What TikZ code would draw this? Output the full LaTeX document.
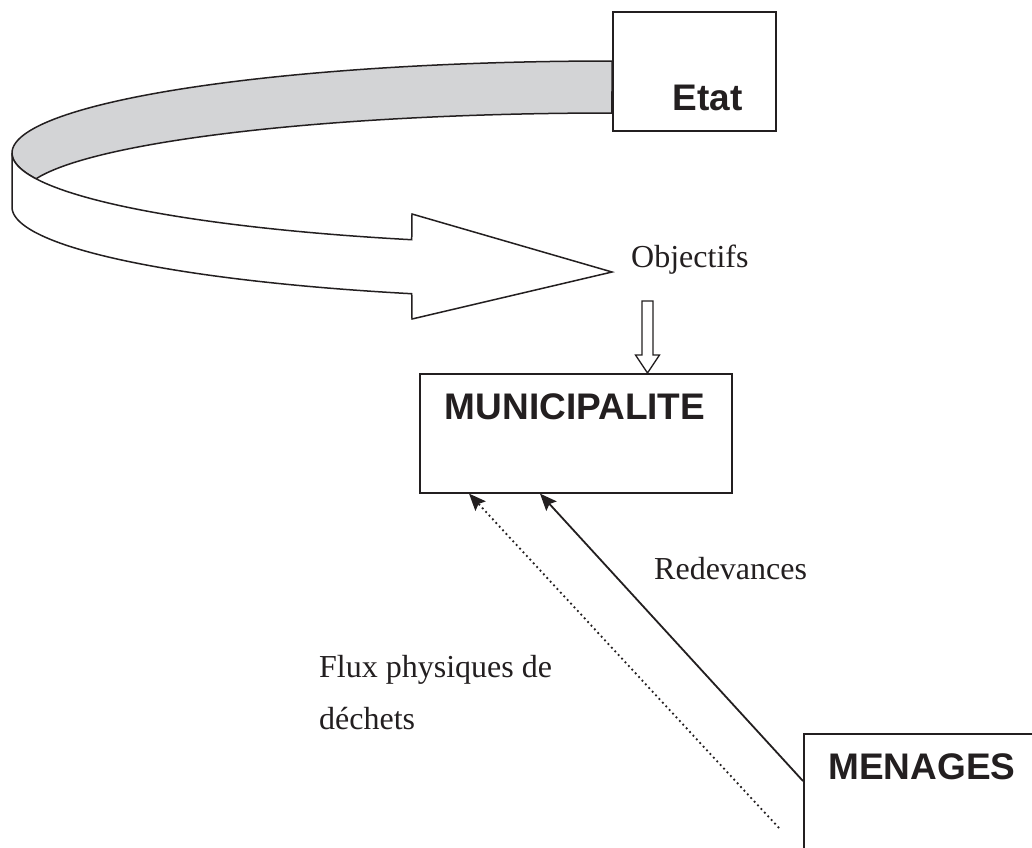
\documentclass[tikz,border=0pt]{standalone}
\usepackage{fontspec}
\setmainfont{Liberation Serif}
\newfontfamily\boxfont{Liberation Sans}
\usetikzlibrary{arrows.meta,calc}
\definecolor{ribbongray}{RGB}{211,212,214}
\definecolor{inkc}{RGB}{35,31,32}
\tikzset{
  boxnode/.style={draw=inkc, line width=1.6pt, fill=white, inner sep=0pt, anchor=north west},
  boxlabel/.style={font=\boxfont\bfseries\fontsize{37}{40}\selectfont, text=inkc, anchor=base, inner sep=0pt},
  txtlabel/.style={font=\fontsize{32}{36}\selectfont, text=inkc, anchor=base west, inner sep=0pt},
  ribbon/.style={draw=inkc, line width=1.5pt},
  flow/.style={draw=inkc, line width=1.8pt, -{Stealth[length=17pt,width=14pt,inset=3pt]}},
  dotflow/.style={draw=inkc, line width=1.8pt, dash pattern=on 1.8pt off 3.2pt, -{Stealth[length=17pt,width=14pt,inset=3pt]}},
}
\begin{document}
\begin{tikzpicture}[x=1pt,y=-1pt]
\useasboundingbox (0,0) rectangle (1032,847);
\clip (0,0) rectangle (1032,847);
\fill[white] (0,0) rectangle (1032,847);

% gray top face of the curved ribbon
\path[ribbon, fill=ribbongray]
  plot[domain=270:164.1, samples=160] ({612+600*cos(\x)},{153+92*sin(\x)})
  -- plot[domain=192:270, samples=160] ({612+590*cos(\x)},{197+84*sin(\x)})
  -- cycle;

% white front face with arrow head
\path[ribbon, fill=white, line join=miter]
  plot[domain=180:109.5, samples=160] ({612+600*cos(\x)},{153+92*sin(\x)})
  -- (412,214) -- (612,272) -- (412,319)
  -- plot[domain=109.5:180, samples=160] ({612+600*cos(\x)},{207+92*sin(\x)})
  -- cycle;

% boxes
\node[boxnode, minimum width=163pt, minimum height=119pt] (etat) at (612,11) {};
\node[boxlabel] (etatlbl) at (707.5,110) {Etat};

\node[boxnode, minimum width=312pt, minimum height=119pt] (muni) at (419,373) {};
\node[boxlabel] (munilbl) at (575,419) {MUNICIPALITE};

\node[boxnode, minimum width=260pt, minimum height=160pt] (men) at (803,733) {};
\node[boxlabel] (menlbl) at (922,779) {MENAGES};

% text labels
\node[txtlabel] (obj) at (631,267) {Objectifs};
\node[txtlabel] (red) at (654,579) {Redevances};
\node[txtlabel] (flux1) at (319,677) {Flux physiques de};
\node[txtlabel] (flux2) at (319,729) {déchets};

% small hollow down arrow from Objectifs to MUNICIPALITE
\path[ribbon, line width=1.3pt, fill=white]
  (642,301) -- (653,301) -- (653,355) -- (659.5,355) -- (647.5,373)
  -- (635.5,355) -- (642,355) -- cycle;

% connectors
\coordinate (menIn) at ($(men.north west)+(0,48)$);
\coordinate (dotStart) at (779,828);
\coordinate (muniA) at ($(muni.south west)+(50,0)$);
\coordinate (muniB) at ($(muni.south west)+(121,0)$);
\draw[flow] (menIn) -- (muniB);
\draw[dotflow] (dotStart) -- (muniA);
\end{tikzpicture}
\end{document}
